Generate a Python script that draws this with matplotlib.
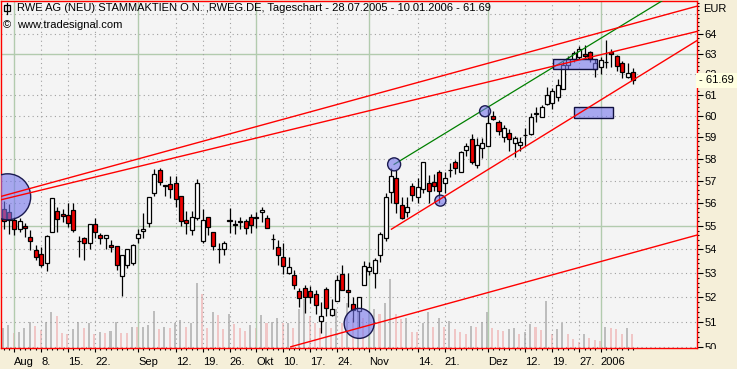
import matplotlib
matplotlib.use('Agg')
import matplotlib.pyplot as plt
import numpy as np
import pandas as pd
from matplotlib.patches import Rectangle
from matplotlib.ticker import FixedLocator, NullFormatter, FixedFormatter
from matplotlib.transforms import Bbox, TransformedBbox

plt.rcParams['font.family'] = ['Liberation Sans', 'DejaVu Sans']

# ---------------- data ----------------
dates = pd.bdate_range('2005-07-28', '2006-01-10')
dates = dates[dates != pd.Timestamp('2005-12-26')]

opens = [55.73, 55.59, 55.27, 54.86, 55.00, 54.52, 53.97, 53.80, 53.41, 54.74,
         55.66, 55.53, 55.47, 55.70, 54.35, 54.47, 54.26, 55.09, 54.62, 54.47,
         54.19, 54.14, 52.85, 53.32, 53.43, 54.47, 54.78, 55.15, 56.45, 57.49,
         56.81, 56.85, 56.89, 56.33, 55.27, 54.83, 55.35, 54.37, 55.38, 54.74,
         54.02, 54.00, 55.25, 55.07, 55.20, 55.23, 55.38, 55.37, 55.63, 55.34,
         54.44, 54.09, 53.69, 52.99, 52.92, 52.26, 52.37, 52.23, 52.13, 51.03,
         52.33, 51.27, 51.84, 52.95, 52.30, 51.72, 51.41, 52.51, 53.10, 53.01,
         53.75, 54.47, 56.48, 57.11, 55.92, 55.59, 56.76, 56.29, 56.62, 56.91,
         56.96, 57.41, 56.91, 57.48, 57.87, 57.37, 58.40, 58.90, 57.73, 58.48,
         58.56, 59.99, 59.68, 59.02, 59.18, 58.71, 58.63, 59.08, 59.15, 60.10,
         59.96, 60.56, 60.60, 60.88, 61.27, 62.46, 62.74, 62.84, 63.00, 63.07,
         62.24, 62.34, 62.60, 63.07, 62.87, 62.57, 61.87, 62.12]
highs = [56.10, 55.97, 55.41, 55.34, 55.12, 54.83, 54.19, 54.11, 54.62, 56.22,
         55.85, 55.73, 56.00, 56.00, 54.57, 54.52, 55.09, 55.34, 54.69, 54.62,
         54.40, 54.14, 53.75, 54.03, 54.22, 54.88, 55.56, 56.27, 57.52, 57.56,
         56.81, 57.22, 57.19, 56.33, 55.66, 55.66, 57.07, 55.73, 55.38, 54.74,
         54.26, 54.37, 55.77, 55.27, 55.41, 55.30, 55.52, 55.60, 55.85, 55.47,
         54.66, 54.40, 54.26, 53.66, 53.13, 52.37, 52.50, 52.46, 52.30, 51.78,
         52.41, 51.91, 52.92, 53.34, 52.99, 52.02, 52.02, 53.51, 53.47, 53.62,
         54.76, 56.45, 57.57, 57.49, 56.29, 56.27, 56.89, 57.11, 57.87, 57.26,
         57.31, 57.49, 57.37, 57.79, 57.94, 58.33, 58.74, 59.15, 58.94, 58.94,
         60.30, 60.20, 59.80, 59.57, 59.37, 59.05, 59.02, 59.41, 60.12, 60.40,
         60.51, 61.39, 61.32, 61.75, 62.67, 62.87, 63.12, 63.40, 63.45, 63.12,
         62.74, 62.84, 63.67, 63.24, 62.95, 62.67, 62.57, 62.29]
lows = [54.86, 54.66, 54.62, 54.72, 54.52, 53.97, 53.55, 53.24, 53.10, 54.74,
        54.76, 55.19, 54.95, 54.76, 53.69, 53.55, 54.03, 54.47, 54.23, 54.01,
        53.90, 53.13, 52.06, 53.20, 53.33, 54.26, 54.47, 54.97, 56.30, 56.81,
        56.30, 56.22, 55.82, 55.00, 54.66, 54.60, 55.27, 54.26, 54.62, 53.97,
        53.41, 53.77, 54.69, 54.65, 54.87, 54.65, 54.69, 54.90, 55.19, 54.89,
        54.03, 53.34, 52.96, 52.96, 52.33, 51.59, 51.35, 51.75, 51.32, 50.54,
        51.21, 51.21, 51.84, 52.27, 51.61, 51.00, 50.80, 52.51, 52.92, 52.37,
        53.47, 54.33, 56.02, 55.56, 55.30, 55.41, 56.11, 56.02, 56.45, 56.02,
        56.56, 56.02, 56.45, 57.16, 57.31, 57.37, 58.10, 57.76, 57.57, 58.02,
        58.56, 59.80, 59.10, 58.79, 58.33, 58.07, 58.33, 58.59, 59.10, 59.68,
        59.96, 60.51, 60.31, 60.72, 61.27, 62.24, 62.62, 62.74, 62.74, 62.62,
        61.85, 62.01, 62.29, 62.34, 62.17, 61.80, 61.80, 61.50]
closes = [55.21, 55.27, 54.86, 55.22, 54.90, 54.34, 53.69, 53.32, 54.57, 56.22,
          55.30, 55.43, 55.15, 54.83, 54.33, 54.26, 55.09, 54.74, 54.47, 54.62,
          54.09, 53.32, 53.75, 54.03, 54.19, 54.65, 54.88, 56.27, 57.31, 56.96,
          56.75, 56.62, 56.17, 55.23, 55.12, 55.38, 56.89, 55.27, 54.97, 54.13,
          54.00, 54.26, 55.23, 55.05, 55.18, 54.90, 55.03, 55.35, 55.70, 54.90,
          54.42, 53.75, 53.27, 53.24, 52.50, 51.98, 51.99, 51.99, 51.67, 51.24,
          51.56, 51.51, 52.71, 52.27, 52.19, 51.48, 51.99, 53.30, 53.24, 53.55,
          54.66, 56.29, 57.22, 56.00, 55.34, 55.82, 56.37, 56.71, 57.87, 56.53,
          56.76, 56.53, 57.11, 57.50, 57.59, 58.29, 58.59, 57.87, 58.63, 58.71,
          59.65, 59.83, 59.30, 59.41, 58.90, 58.94, 58.79, 59.10, 59.96, 60.12,
          60.43, 60.98, 61.17, 61.47, 62.46, 62.74, 63.03, 63.24, 62.87, 62.74,
          62.54, 62.70, 62.62, 63.00, 62.38, 62.12, 62.04, 61.69]
volume = [2.00, 2.27, 1.50, 1.57, 2.00, 2.57, 2.17, 1.77, 2.57, 3.57,
          3.17, 1.50, 1.33, 1.83, 2.57, 2.00, 2.50, 1.33, 1.57, 1.50,
          1.67, 2.57, 1.50, 1.48, 2.07, 2.03, 2.09, 2.27, 3.67, 1.90,
          2.07, 2.00, 2.50, 2.77, 2.07, 2.50, 6.47, 5.33, 2.00, 3.57,
          3.27, 1.90, 3.40, 2.40, 2.00, 1.67, 2.27, 2.00, 3.27, 2.43,
          2.57, 2.93, 2.43, 2.50, 2.00, 3.83, 4.83, 3.17, 2.50, 2.00,
          2.57, 2.00, 3.83, 2.50, 4.50, 3.00, 4.00, 3.00, 3.67, 3.90,
          3.40, 4.50, 6.90, 3.40, 2.90, 2.93, 1.57, 1.55, 2.50, 3.57,
          2.07, 3.00, 2.07, 2.67, 1.90, 1.57, 1.33, 2.17, 2.07, 2.57,
          3.57, 2.00, 1.73, 1.70, 1.90, 2.00, 1.33, 1.57, 2.40, 2.07,
          1.80, 4.67, 1.40, 1.90, 2.50, 1.33, 0.90, 0.60, 1.33, 0.93,
          0.77, 0.67, 2.07, 2.00, 1.83, 1.33, 2.00, 1.33]

tick_dates = ['2005-08-01', '2005-08-08', '2005-08-15', '2005-08-22',
              '2005-09-01', '2005-09-12', '2005-09-19', '2005-09-26',
              '2005-10-03', '2005-10-10', '2005-10-17', '2005-10-24',
              '2005-11-01', '2005-11-14', '2005-11-21',
              '2005-12-01', '2005-12-12', '2005-12-19', '2005-12-27',
              '2006-01-02']
tick_labels = ['Aug', '8.', '15.', '22.', 'Sep', '12.', '19.', '26.',
               'Okt', '10.', '17.', '24.', 'Nov', '14.', '21.',
               'Dez', '12.', '19.', '27.', '2006']
month_dates = ['2005-08-01', '2005-09-01', '2005-10-03', '2005-11-01',
               '2005-12-01', '2006-01-02']

price_ticks = list(range(50, 65))
solid_price_lines = [55, 63]

# drawing annotations (positions in trading-day units / EUR)
marker_pos = [0.77, 66.1, 72.6, 81.2, 89.5]
marker_price = [56.28, 50.93, 57.74, 56.11, 60.21]
marker_diam_px = [46, 30, 13, 11, 11]

box_x0 = [102.2, 106.0]
box_x1 = [110.3, 113.2]
box_lo = [62.24, 59.91]
box_hi = [62.74, 60.41]

red_lines = [((-0.6, 56.29), (128.8, 65.41)),
             ((-0.6, 56.14), (128.8, 64.12)),
             ((72.1, 54.86), (128.8, 63.65)),
             ((53.4, 50.00), (128.8, 54.60))]
green_lines = [((72.6, 57.74), (128.8, 66.79))]

# ---------------- figure ----------------
W, H = 737, 369
fig = plt.figure(figsize=(W / 100, H / 100), dpi=100, facecolor='#F5EFD9')
L, R, T, B = 0.5, 696.5, 0.5, 347.5
rect = [L / W, 1 - B / H, (R - L) / W, (B - T) / H]

x = np.arange(len(dates))
o = np.array(opens); h = np.array(highs); l = np.array(lows); c = np.array(closes)
v = np.array(volume)

# volume axis (behind)
axv = fig.add_axes(rect)
axv.set_facecolor('#F4F4F4')
vcol = ['#BDBDBD'] + ['#BDBDBD' if v[i] >= v[i - 1] else '#F0C6C6' for i in range(1, len(v))]
axv.bar(x - 0.12, v, width=0.38, color=vcol, linewidth=0)
axv.set_ylim(0, (B - T) / 10)
axv.set_yticks([])
axv.tick_params(axis='x', which='both', bottom=False, top=False,
                labelbottom=False, labeltop=False)
for s in axv.spines.values():
    s.set_visible(False)

# price axis
ax = fig.add_axes(rect, sharex=axv)
ax.patch.set_visible(False)
ax.set_yscale('log')
ax.set_xlim((L - 3.54) / 5.38, (R - 3.54) / 5.38)
ax.set_ylim(49.97, 65.71)

# grid
tick_pos = [dates.get_loc(pd.Timestamp(d)) for d in tick_dates]
month_pos = [dates.get_loc(pd.Timestamp(d)) for d in month_dates]
for p in range(50, 66):
    if p in solid_price_lines:
        ax.axhline(p, color='#B2CBAE', lw=1.0, zorder=0.5)
    else:
        ax.axhline(p, color='#A0A0A0', lw=0.8, ls=(0, (1, 3)), zorder=0.5)
for tp in tick_pos:
    if tp in month_pos:
        ax.axvline(tp, color='#B2CBAE', lw=1.0, zorder=0.5)
    else:
        ax.axvline(tp, color='#A0A0A0', lw=0.8, ls=(0, (1, 3)), zorder=0.5)

# candles
up = c >= o
ax.vlines(x, l, h, color='black', lw=0.9, zorder=2)
ax.bar(x, np.abs(c - o), bottom=np.minimum(o, c), width=0.75,
       color=np.where(up, 'white', '#EE0000'), edgecolor='black', linewidth=0.9, zorder=3)

# green line (under shapes)
for (x0, p0), (x1, p1) in green_lines:
    ax.plot([x0, x1], [p0, p1], color='#008000', lw=0.9, zorder=4)

# shapes
ax.scatter(marker_pos, marker_price, s=(np.array(marker_diam_px) * 0.72) ** 2,
           facecolor=(0.46, 0.46, 0.93, 0.6), edgecolor='#1A1A50', linewidth=1.0, zorder=5)
for a0, a1, lo, hi in zip(box_x0, box_x1, box_lo, box_hi):
    ax.add_patch(Rectangle((a0, lo), a1 - a0, hi - lo, facecolor=(0.46, 0.46, 0.93, 0.6),
                           edgecolor='#101040', linewidth=1.0, zorder=5))

# red lines
for (x0, p0), (x1, p1) in red_lines:
    ax.plot([x0, x1], [p0, p1], color='#FF0000', lw=1.0, zorder=6)

# spines
for s in ax.spines.values():
    s.set_color('#FF0000'); s.set_linewidth(1.0)

# y axis right
ax.yaxis.tick_right()
ax.yaxis.set_major_locator(FixedLocator(price_ticks))
ax.yaxis.set_major_formatter(FixedFormatter([str(p) for p in price_ticks]))
ax.yaxis.set_minor_locator(FixedLocator(np.arange(50, 65.7, 0.2)))
ax.yaxis.set_minor_formatter(NullFormatter())
ax.tick_params(axis='y', which='major', length=4, width=0.8, pad=2, labelsize=8, colors='black')
ax.tick_params(axis='y', which='minor', length=1.6, width=0.8, colors='black')

# x axis
ax.xaxis.set_major_locator(FixedLocator(tick_pos))
ax.xaxis.set_major_formatter(FixedFormatter(tick_labels))
ax.xaxis.set_minor_locator(FixedLocator(x))
ax.xaxis.set_minor_formatter(NullFormatter())
ax.tick_params(axis='x', which='major', length=3, width=0.8, pad=3.5, labelsize=8, colors='black')
ax.tick_params(axis='x', which='minor', length=1.6, width=0.8, colors='black')
for lab in ax.get_xticklabels():
    lab.set_horizontalalignment('left')

clip = TransformedBbox(Bbox([[0, 1 - 349 / H], [1, 1]]), fig.transFigure)
for tk in ax.yaxis.get_major_ticks():
    tk.label2.set_clip_box(clip)
    tk.label2.set_clip_on(True)

# last value marker
ax.annotate('- %.2f ' % closes[-1], xy=(1, closes[-1]), xycoords=('axes fraction', 'data'),
            xytext=(2, 0), textcoords='offset pixels', ha='left', va='center', fontsize=8,
            bbox=dict(boxstyle='square,pad=0.2', fc='#FFFFE0', ec='none'), zorder=10,
            annotation_clip=False)

# texts
fig.text(703 / W, 1 - 9 / H, 'EUR', fontsize=8, va='center', ha='left')
fig.text(17 / W, 1 - 8 / H,
         'RWE AG (NEU) STAMMAKTIEN O.N. ,RWEG.DE, Tageschart - 28.07.2005 - 10.01.2006 - 61.69',
         fontsize=8, va='center', ha='left')
fig.text(17 / W, 1 - 25 / H, 'www.tradesignal.com', fontsize=8, va='center', ha='left')
fig.text(3 / W, 1 - 25 / H, '©', fontsize=8, va='center', ha='left')
fig.add_artist(Rectangle((4 / W, 1 - 11 / H), 6 / W, 6 / H, transform=fig.transFigure,
                         fill=False, edgecolor='black', linewidth=0.9))
fig.add_artist(plt.Line2D([7 / W, 7 / W], [1 - 3 / H, 1 - 14 / H], transform=fig.transFigure,
                          color='black', lw=0.9))

fig.savefig('out.png', dpi=100, facecolor=fig.get_facecolor())
